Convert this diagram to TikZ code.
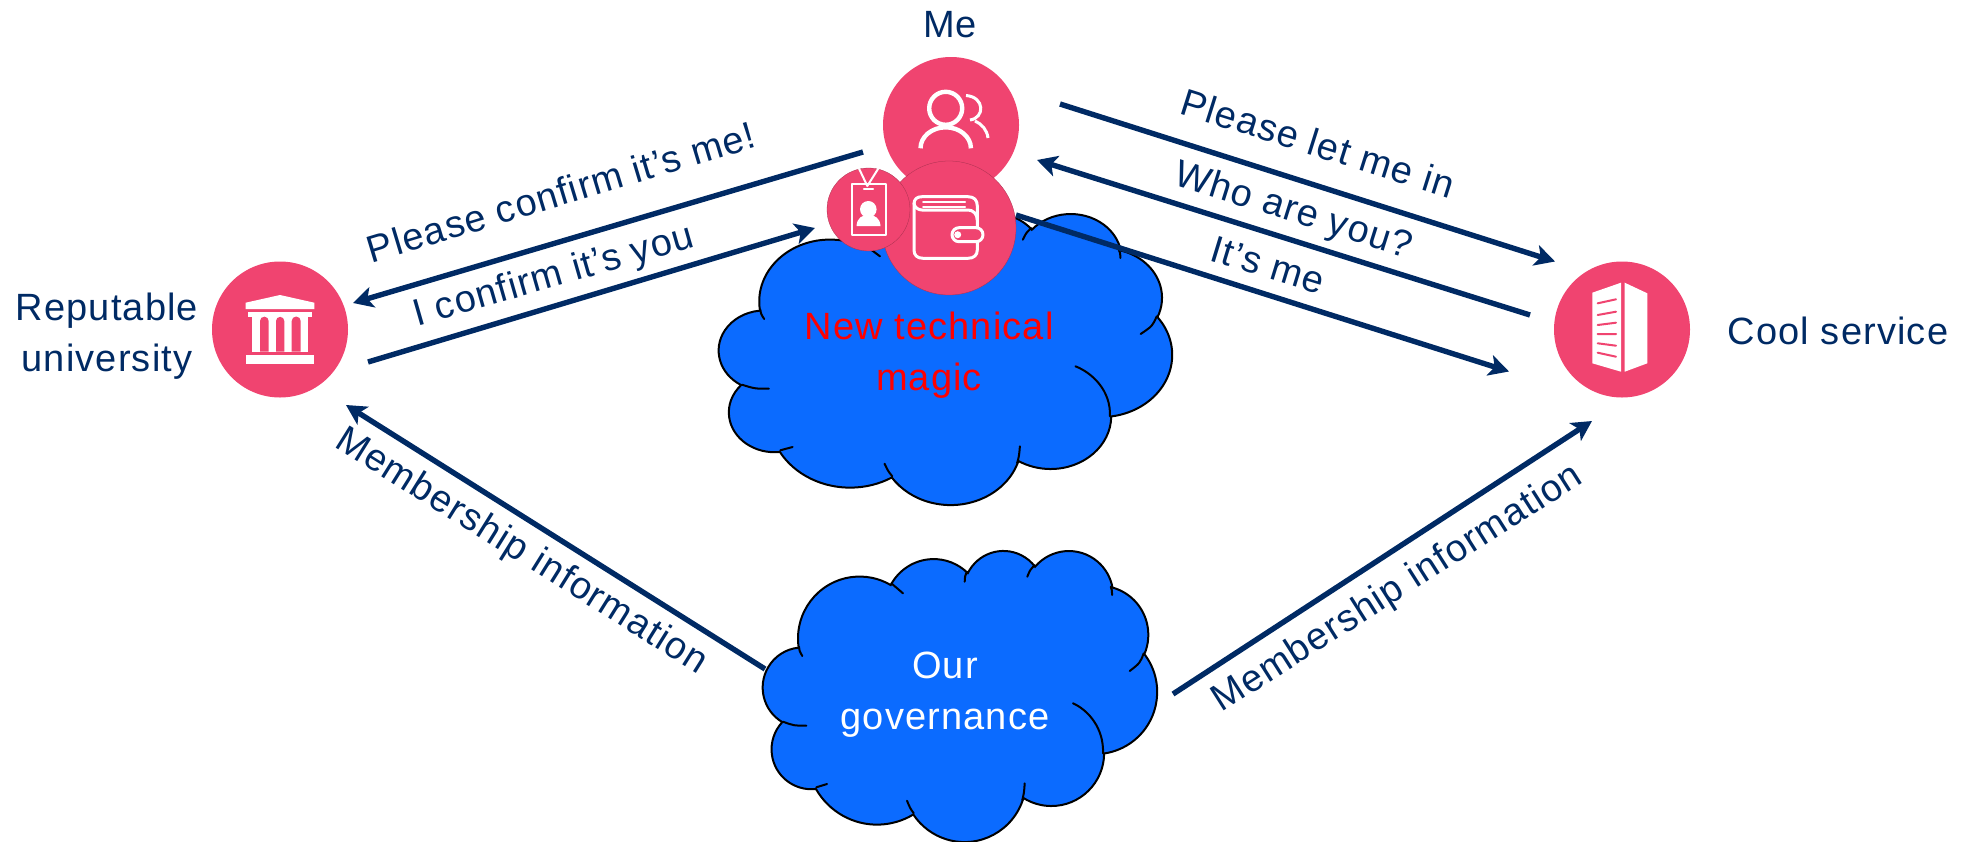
\documentclass[tikz,border=0pt]{standalone}
\usepackage{fontspec}
\setmainfont{Liberation Sans}[LetterSpace=3]
\usetikzlibrary{arrows.meta}
\definecolor{navy}{HTML}{002A64}
\definecolor{pinkc}{HTML}{F04470}
\definecolor{cloudb}{HTML}{0B6BFF}
\tikzset{
  px/.style={x=0.5pt,y=-0.5pt},
  disc/.style={circle,fill=pinkc,inner sep=0pt,minimum size=#1},
  lbl/.style={text=navy,font=\fontsize{19}{25.5}\selectfont,align=center,inner sep=0pt},
  flow/.style={draw=navy,line width=2.7pt,-{Stealth[length=10pt,width=10.5pt,inset=2.5pt]}},
  cloudline/.style={draw=black,line width=1pt},
  ico/.style={draw=white,line width=1.5pt,line cap=round,line join=round},
}
\newcommand\ca[4]{\pgfextra{%
  \pgfmathparse{atan2(#1*sin(#3),#2*cos(#3))}\global\let\cta\pgfmathresult
  \pgfmathparse{atan2(#1*sin(#3+#4),#2*cos(#3+#4))}\let\cte\pgfmathresult
  \pgfmathparse{mod(\cte-\cta+720,360)}\global\let\ctd\pgfmathresult}%
  arc[x radius=#1,y radius=#2,start angle=\cta,delta angle=\ctd]}
% x0, y0, outline x unit, outline y unit, inner x unit
\newcommand\cloudshape[5]{%
\begin{scope}[shift={(#1,#2)}]
\begin{scope}[x=#3,y=-#4]
\path[fill=cloudb,cloudline] (39,143.7)
  \ca{67.53}{91.90}{-190.4875}{123.7805}
  \ca{53.33}{72.67}{-144.1024}{89.9452}
  \ca{43.65}{59.45}{-145.8079}{99.7230}
  \ca{48.57}{65.95}{-130.9861}{117.2417}
  \ca{53.33}{72.73}{-78.7089}{109.0269}
  \ca{67.75}{92.20}{-46.2673}{130.2690}
  \ca{57.85}{78.67}{0.6250}{114.0333}
  \ca{67.52}{92.15}{22.4516}{115.1726}
  \ca{77.20}{105.43}{66.2426}{75.7110}
  \ca{43.60}{59.18}{-274.9421}{146.7356}
  \ca{43.45}{59.45}{-246.8285}{152.5189} -- cycle;
\end{scope}
\begin{scope}[x=#5,y=-0.5pt]
\draw[cloudline,line cap=round]
  (39.3,106) .. controls (36.5,101) .. (36,96.7)
  (128.3,33.3) .. controls (134,37.5) .. (140,43.3)
  (201.7,31.7) .. controls (202,26) .. (204,21.7)
  (264.3,26.7) .. controls (267,20) .. (271.7,15)
  (349,45) .. controls (349,40) .. (347.7,36.7)
  (366.7,121) .. controls (377,113) .. (380.7,103.3)
  (310,153.3) .. controls (325,160) and (341,178) .. (340,203.3)
  (261.7,233.3) .. controls (261,243) .. (259.3,250)
  (144,250.7) .. controls (147,258) .. (150.7,263.3)
  (64,234) .. controls (58,236) .. (53.3,237.3)
  (20,171.7) .. controls (31,175.7) .. (43.3,175.7);
\end{scope}
\end{scope}}
\begin{document}
\begin{tikzpicture}[px]
\useasboundingbox (0,0) rectangle (1970,841);
% clouds
\cloudshape{719}{213}{0.52431pt}{0.33681pt}{0.57487pt}
\cloudshape{763}{550}{0.45602pt}{0.33681pt}{0.5pt}
% connector ends
\coordinate (a1) at (1060,104); \coordinate (a2) at (1555,261.5);
\coordinate (b1) at (1530,315); \coordinate (b2) at (1037,160);
\coordinate (c1) at (1016,215); \coordinate (c2) at (1509,371.5);
\coordinate (d1) at (863,152);  \coordinate (d2) at (353,303);
\coordinate (e1) at (368,362);  \coordinate (e2) at (815,228);
\coordinate (f1) at (765,669);  \coordinate (f2) at (346,405);
\coordinate (g1) at (1173,694); \coordinate (g2) at (1592,421);
\draw[flow] (c1) -- (c2);
% discs
\node[disc=68pt] (me) at (951,125) {};
\node[disc=67pt,draw=black!30!pinkc,line width=0.15pt] (wallet) at (949,228) {};
\node[disc=41.5pt,draw=black!30!pinkc,line width=0.15pt] (badge) at (868.5,209.5) {};
\node[disc=68pt] (univ) at (280,329.5) {};
\node[disc=68pt] (serv) at (1622,329.5) {};
% connectors
\draw[flow] (a1) -- (a2);
\draw[flow] (b1) -- (b2);
\draw[flow] (d1) -- (d2);
\draw[flow] (e1) -- (e2);
\draw[flow] (f1) -- (f2);
\draw[flow] (g1) -- (g2);
% user icon
\draw[ico,line width=2.2pt] (945.7,108.3) circle[radius=16.5];
\draw[ico,line width=2.2pt,line cap=butt] (920.5,148.3) arc[start angle=180,end angle=360,x radius=25.2,y radius=21];
\draw[ico,line cap=butt] (966,95.5) .. controls (985,97) and (985,118) .. (970,120);
\draw[ico,line cap=butt] (975,121) .. controls (982,124) and (987,130) .. (988,138);
% wallet icon
\draw[ico] (922,196.7) -- (968,196.7) .. controls (974,196.7) and (977.3,200) .. (977.3,206) -- (977.3,250) .. controls (977.3,255) and (974,258.3) .. (968,258.3) -- (923,258.3) .. controls (917,258.3) and (914,255) .. (914,250) -- (914,204) .. controls (914,199) and (917,196.7) .. (922,196.7);
\draw[ico] (914,203) .. controls (914,207) and (918,210) .. (922,210) -- (968,210) .. controls (973,210) and (977.3,214) .. (977.3,220);
\draw[ico,line width=1pt] (923,201.5) -- (965,201.5) (923,206.5) -- (965,206.5);
\draw[ico,fill=pinkc,rounded corners=3.5pt] (952,227.7) rectangle (983,241.7);
\fill[white] (957.7,234.7) circle[radius=3.5];
% badge icon
\draw[ico,line width=1pt,line cap=butt] (859,168.5) -- (867.3,186) -- (878.3,168.5);
\draw[ico,line width=1pt,line cap=butt] (851.7,184) rectangle (886,235);
\draw[ico,line width=1.2pt] (864,189) -- (873,189);
\fill[white] (868.3,209.3) circle[radius=8.3];
\fill[white] (856.5,226) .. controls (857,218) and (862,215) .. (868.3,215) .. controls (875,215) and (880,218) .. (880.5,226) -- cycle;
% university icon
\fill[white] (245.7,309) -- (245.7,302.7) -- (280,295) -- (314.3,302.7) -- (314.3,309) -- cycle;
\fill[white] (248.3,312.3) rectangle (311.7,316.7);
\fill[white] (252.3,312.3) rectangle (307.7,351.7);
\fill[white] (245.7,355) rectangle (314.3,364);
\fill[pinkc] (260,351.7) -- (260,321) arc[start angle=180,end angle=360,radius=4.35] -- (268.7,351.7) -- cycle;
\fill[pinkc] (276,351.7) -- (276,321) arc[start angle=180,end angle=360,radius=4.15] -- (284.3,351.7) -- cycle;
\fill[pinkc] (291.7,351.7) -- (291.7,321) arc[start angle=180,end angle=360,radius=4.5] -- (300.7,351.7) -- cycle;
% building icon
\fill[white] (1592.3,292.7) -- (1621,282.7) -- (1621,371.7) -- (1592.3,363.3) -- cycle;
\fill[white] (1624.7,282.7) -- (1647.3,293.3) -- (1647.3,363.3) -- (1624.7,371.7) -- cycle;
\draw[pinkc,line width=1pt,line cap=round] (1597.7,303.3) -- (1616,299.3) (1597.7,315) -- (1616,311.7) (1597.7,325) -- (1616,322.7) (1597.7,334) -- (1616,334) (1597.7,343.3) -- (1616,345.7) (1597.7,352.7) -- (1616,356.7);
% labels
\node[lbl] (tme) at (950,25) {Me};
\node[lbl] (tuniv) at (107,336) {Reputable\\university};
\node[lbl] (tserv) at (1838,331) {Cool service};
\node[lbl,rotate=-17.5] (t1) at (1318,143) {Please let me in};
\node[lbl,rotate=-17.5] (t2) at (1293,212) {Who are you?};
\node[lbl,rotate=-17] (t3) at (1268,265) {It’s me};
\node[lbl,rotate=16.8] (t4) at (561,192) {Please confirm it’s me!};
\node[lbl,rotate=16] (t5) at (554,277) {I confirm it’s you};
\node[lbl,rotate=-32] (t6) at (521,552) {Membership information};
\node[lbl,rotate=32.5] (t7) at (1398,589) {Membership information};
\node[lbl,text=red] (t8) at (929,355) {New technical\\magic};
\node[lbl,text=white] (t9) at (945,695) {Our\\governance};
\end{tikzpicture}
\end{document}
